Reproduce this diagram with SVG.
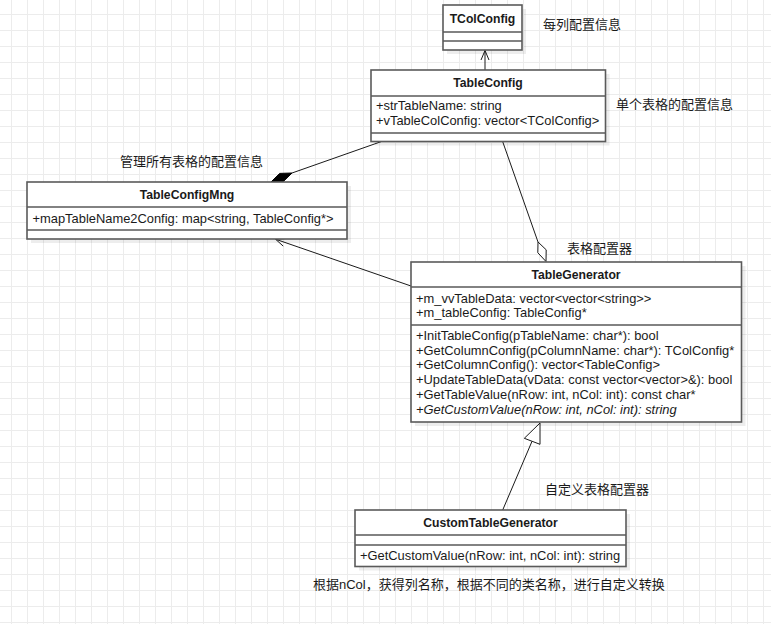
<svg xmlns="http://www.w3.org/2000/svg" width="771" height="624" viewBox="0 0 771 624">
<style>
.box{fill:#fff;stroke:#5a5a5a;stroke-width:1.6}
.div{stroke:#5a5a5a;stroke-width:1.6;fill:none}
.sh{fill:#000;fill-opacity:0.07}
.t{font-family:"Liberation Sans",Arial,"Noto Sans CJK SC",sans-serif;font-size:12.9px;fill:#1a1a1a}
.b{font-weight:bold;text-anchor:middle;font-size:12.2px}
.i{font-style:italic}
.cjk{font-family:"Liberation Sans",Arial,"Noto Sans CJK SC",sans-serif;font-size:13px;fill:#1a1a1a}
.ln{stroke:#1a1a1a;stroke-width:1;fill:none}
</style>
<defs>
<pattern id="grid" x="11" y="14" width="16" height="16" patternUnits="userSpaceOnUse">
<path d="M0 0.5H16M0.5 0V16" stroke="#ececec" stroke-width="1" fill="none"/>
</pattern>
</defs>
<rect width="771" height="624" fill="#fff"/>
<rect width="771" height="624" fill="url(#grid)"/>

<g id="connectors">
<g id="e-tableconfig-tcolconfig">
<path class="ln" d="M485 70V50.5"/>
<path class="ln" d="M481 60L485 50.5L489 60"/>
</g>
<g id="e-tableconfig-mng">
<path class="ln" d="M381 141.7L292 173"/>
<path d="M271 182L283.3 181.6L292 173L279.7 173.4Z" fill="#000" stroke="#000" stroke-width="1"/>
</g>
<g id="e-generator-tableconfig">
<path class="ln" d="M502.7 141.7L538 242"/>
<path d="M546 261.5L546.2 249.8L538 242L537.8 252.7Z" fill="#fff" stroke="#1a1a1a" stroke-width="1"/>
</g>
<g id="e-generator-mng">
<path class="ln" d="M411 286L275.5 239.2"/>
<path class="ln" d="M283.2 246.1L275.5 239.2L285.8 238.5"/>
</g>
<g id="e-custom-generator">
<path class="ln" d="M502.7 510L532 441.3"/>
<path d="M540 423L524.3 438.3L540 444.3Z" fill="#fff" stroke="#1a1a1a" stroke-width="1"/>
</g>
</g>

<g id="TColConfig">
<rect class="sh" x="447" y="9" width="79" height="45"/>
<rect class="box" x="443" y="5" width="79" height="45"/>
<path class="div" d="M443 32H522M443 41H522"/>
<text class="t b" x="482.5" y="23">TColConfig</text>
</g>

<g id="TableConfig">
<rect class="sh" x="375" y="74" width="234.5" height="71.5"/>
<rect class="box" x="371" y="70" width="234.5" height="71.5"/>
<path class="div" d="M371 96H605.5M371 133H605.5"/>
<text class="t b" x="488" y="87">TableConfig</text>
<text class="t" x="376" y="110">+strTableName: string</text>
<text class="t" x="376" y="125">+vTableColConfig: vector&lt;TColConfig&gt;</text>
</g>

<g id="TableConfigMng">
<rect class="sh" x="31" y="186" width="320" height="57"/>
<rect class="box" x="27" y="182" width="320" height="57"/>
<path class="div" d="M27 207H347M27 230H347"/>
<text class="t b" x="187" y="198.5">TableConfigMng</text>
<text class="t" x="32.5" y="222.5">+mapTableName2Config: map&lt;string, TableConfig*&gt;</text>
</g>

<g id="TableGenerator">
<rect class="sh" x="415" y="266" width="330.5" height="160"/>
<rect class="box" x="411" y="262" width="330.5" height="160"/>
<path class="div" d="M411 287H741.5M411 325H741.5"/>
<text class="t b" x="576" y="278.5">TableGenerator</text>
<text class="t" x="416" y="302.5">+m_vvTableData: vector&lt;vector&lt;string&gt;&gt;</text>
<text class="t" x="416" y="316.5">+m_tableConfig: TableConfig*</text>
<text class="t" x="416" y="340">+InitTableConfig(pTableName: char*): bool</text>
<text class="t" x="416" y="354.5">+GetColumnConfig(pColumnName: char*): TColConfig*</text>
<text class="t" x="416" y="369">+GetColumnConfig(): vector&lt;TableConfig&gt;</text>
<text class="t" x="416" y="384">+UpdateTableData(vData: const vector&lt;vector&gt;&amp;): bool</text>
<text class="t" x="416" y="399">+GetTableValue(nRow: int, nCol: int): const char*</text>
<text class="t i" x="416" y="414">+GetCustomValue(nRow: int, nCol: int): string</text>
</g>

<g id="CustomTableGenerator">
<rect class="sh" x="359" y="514" width="271" height="56.5"/>
<rect class="box" x="355" y="510" width="271" height="56.5"/>
<path class="div" d="M355 535H626M355 545H626"/>
<text class="t b" x="490.5" y="526.5">CustomTableGenerator</text>
<text class="t" x="360" y="560">+GetCustomValue(nRow: int, nCol: int): string</text>
</g>

<g id="labels">
<text class="cjk" x="543" y="28.5">每列配置信息</text>
<text class="cjk" x="616" y="109">单个表格的配置信息</text>
<text class="cjk" x="120" y="165.5">管理所有表格的配置信息</text>
<text class="cjk" x="567" y="253">表格配置器</text>
<text class="cjk" x="545" y="493.5">自定义表格配置器</text>
<text class="cjk" x="313" y="589">根据nCol，获得列名称，根据不同的类名称，进行自定义转换</text>
</g>
</svg>
